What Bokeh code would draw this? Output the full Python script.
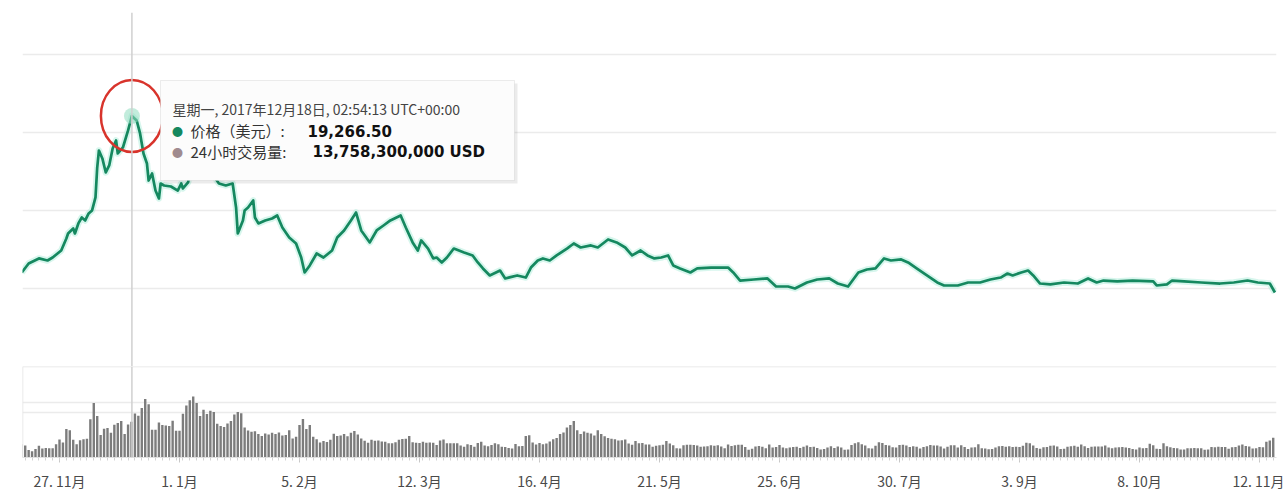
import pandas as pd
from bokeh.plotting import figure
from bokeh.layouts import column
from bokeh.models import FixedTicker, Span, BoxAnnotation, Label, Range1d
from bokeh.embed import file_html
from bokeh.resources import INLINE

# ---------------- data ----------------
price_dates = [
    "2017-11-16", "2017-11-18", "2017-11-21", "2017-11-23 12:00", "2017-11-25",
    "2017-11-27 12:00", "2017-11-29", "2017-11-29 12:00", "2017-12-01", "2017-12-01 12:00",
    "2017-12-02 12:00", "2017-12-03 12:00", "2017-12-04 12:00", "2017-12-05 12:00", "2017-12-06 12:00",
    "2017-12-07 12:00", "2017-12-08", "2017-12-08 12:00", "2017-12-09 12:00", "2017-12-10 12:00",
    "2017-12-11 12:00", "2017-12-12 12:00", "2017-12-13 12:00", "2017-12-14", "2017-12-15 12:00",
    "2017-12-17", "2017-12-18 02:54:13", "2017-12-19 12:00", "2017-12-20 12:00", "2017-12-21 12:00",
    "2017-12-22 12:00", "2017-12-23", "2017-12-24", "2017-12-25", "2017-12-26",
    "2017-12-26 12:00", "2017-12-27 12:00", "2017-12-29 12:00", "2017-12-31 12:00", "2018-01-01 12:00",
    "2018-01-02", "2018-01-03 12:00", "2018-01-04", "2018-01-05 12:00", "2018-01-07",
    "2018-01-08 12:00", "2018-01-10", "2018-01-11 12:00", "2018-01-12 12:00", "2018-01-14 12:00",
    "2018-01-16 12:00", "2018-01-17 12:00", "2018-01-18", "2018-01-19 12:00", "2018-01-20",
    "2018-01-21", "2018-01-22 12:00", "2018-01-23", "2018-01-24", "2018-01-26",
    "2018-01-28", "2018-01-29 12:00", "2018-01-31", "2018-02-02", "2018-02-04",
    "2018-02-05 12:00", "2018-02-06 12:00", "2018-02-08", "2018-02-10", "2018-02-12",
    "2018-02-14 12:00", "2018-02-16", "2018-02-18", "2018-02-20", "2018-02-21 12:00",
    "2018-02-23", "2018-02-25 12:00", "2018-02-27 12:00", "2018-03-01 12:00", "2018-03-03 12:00",
    "2018-03-06 12:00", "2018-03-08", "2018-03-10", "2018-03-11 12:00", "2018-03-12 12:00",
    "2018-03-14 12:00", "2018-03-16", "2018-03-17", "2018-03-18 12:00", "2018-03-20",
    "2018-03-22", "2018-03-25", "2018-03-27 12:00", "2018-03-29", "2018-03-30 12:00",
    "2018-04-01 12:00", "2018-04-04 12:00", "2018-04-06", "2018-04-09 12:00", "2018-04-12",
    "2018-04-13 12:00", "2018-04-15 12:00", "2018-04-17", "2018-04-19", "2018-04-21",
    "2018-04-24", "2018-04-26", "2018-04-28", "2018-05-01", "2018-05-03",
    "2018-05-06", "2018-05-08 12:00", "2018-05-11", "2018-05-13", "2018-05-15 12:00",
    "2018-05-17 12:00", "2018-05-19 12:00", "2018-05-21 12:00", "2018-05-23 12:00", "2018-05-25",
    "2018-05-27", "2018-05-30", "2018-06-01", "2018-06-05", "2018-06-10",
    "2018-06-11 12:00", "2018-06-13 12:00", "2018-06-17 12:00", "2018-06-21 12:00", "2018-06-24",
    "2018-06-27 12:00", "2018-06-29 12:00", "2018-07-03", "2018-07-06", "2018-07-09 12:00",
    "2018-07-12", "2018-07-15", "2018-07-18", "2018-07-20 12:00", "2018-07-23",
    "2018-07-25 12:00", "2018-07-27 12:00", "2018-07-30 12:00", "2018-08-01 12:00", "2018-08-04",
    "2018-08-07", "2018-08-10", "2018-08-12", "2018-08-16", "2018-08-19",
    "2018-08-22 12:00", "2018-08-25 12:00", "2018-08-28 12:00", "2018-08-30 12:00", "2018-09-01",
    "2018-09-03 12:00", "2018-09-05 12:00", "2018-09-07", "2018-09-09", "2018-09-12",
    "2018-09-16", "2018-09-20", "2018-09-23", "2018-09-25 12:00", "2018-09-27 12:00",
    "2018-10-01 12:00", "2018-10-06", "2018-10-12", "2018-10-13", "2018-10-16",
    "2018-10-17 12:00", "2018-10-21", "2018-10-26", "2018-10-31 12:00", "2018-11-04 12:00",
    "2018-11-08 12:00", "2018-11-11 12:00", "2018-11-15", "2018-11-16 12:00",
]
price_usd = [
    7230, 7920, 8310, 8150, 8380,
    8920, 9840, 10230, 10610, 10230,
    11000, 11460, 11230, 11770, 12000,
    13000, 15300, 16610, 16000, 14920,
    15460, 16760, 17380, 16380, 16840,
    18150, 19266.50, 18920, 17920, 16380,
    15610, 14300, 14840, 13530, 12920,
    14070, 13920, 13840, 13530, 14070,
    13690, 14150, 14920, 16460, 17000,
    15690, 15230, 14460, 14070, 13920,
    14070, 12230, 10230, 11230, 12000,
    12230, 12770, 11460, 11000, 11230,
    11380, 11610, 10690, 9920, 9460,
    8380, 7230, 7770, 8690, 8380,
    8920, 9920, 10460, 11230, 11840,
    10460, 9540, 10460, 10840, 11230,
    11610, 10690, 9540, 8920, 9690,
    9070, 8310, 8380, 8000, 8380,
    9070, 8770, 8540, 8000, 7540,
    7000, 7380, 6770, 7000, 6840,
    7610, 8150, 8310, 8150, 8540,
    9070, 9460, 9150, 9310, 9150,
    9770, 9540, 9150, 8540, 8920,
    8540, 8310, 8380, 8540, 7770,
    7540, 7230, 7540, 7610, 7610,
    7230, 6610, 6690, 6770, 6150,
    6150, 6000, 6460, 6690, 6770,
    6380, 6150, 7230, 7460, 7540,
    8310, 8150, 8230, 8000, 7540,
    7000, 6460, 6230, 6230, 6460,
    6460, 6690, 6840, 7150, 7000,
    7230, 7380, 7000, 6380, 6310,
    6460, 6380, 6770, 6460, 6610,
    6540, 6610, 6540, 6230, 6310,
    6610, 6540, 6460, 6380, 6460,
    6610, 6460, 6380, 5690,
]

# 24h volume, billions of USD, one bar per day (16 Nov 2017 .. 16 Nov 2018)
vol_2017_11 = [5.1, 4.6, 2.9, 2.4, 3.3, 4.5, 3.5, 3.7, 3.6, 3.6, 5.1, 6.9, 5.8, 11.0, 10.5]
vol_2017_12 = [6.8, 5.1, 6.6, 7.0, 7.2, 14.7, 21.0, 16.0, 8.7, 11.1, 11.3, 9.5, 12.6, 13.3, 14.0,
               9.0, 12.7, 13.7583, 16.9, 16.1, 19.0, 22.5, 20.5, 10.7, 10.7, 13.5, 12.5, 12.3, 12.1,
               14.1, 10.3]
vol_2018_01 = [10.3, 16.8, 20.0, 22.0, 23.5, 21.0, 16.0, 18.4, 16.7, 18.0, 17.5, 13.0, 12.1, 11.7,
               13.1, 14.0, 16.5, 17.5, 17.0, 11.5, 10.4, 9.9, 10.1, 9.0, 8.3, 9.2, 8.8, 9.5, 9.0,
               9.6, 8.5]
vol_2018_02 = [8.7, 10.5, 7.3, 8.0, 12.5, 14.8, 11.0, 12.5, 8.0, 7.0, 5.8, 6.3, 6.0, 6.8, 9.1,
               8.3, 8.5, 9.0, 8.2, 9.5, 10.2, 8.8, 7.3, 6.4, 5.7, 6.8, 6.4, 6.5]
vol_2018_03 = [6.2, 6.1, 5.5, 5.5, 5.9, 6.8, 7.1, 7.2, 8.3, 5.9, 5.7, 5.6, 6.1, 5.7, 5.8, 5.7,
               4.8, 6.5, 6.9, 5.5, 5.5, 5.5, 5.5, 4.6, 4.1, 5.1, 4.8, 4.1, 5.6, 6.1, 4.6]
vol_2018_04 = [4.3, 4.8, 5.5, 5.1, 4.1, 4.0, 3.7, 3.5, 5.2, 4.3, 4.4, 8.3, 8.6, 5.8, 5.0, 5.6,
               5.1, 5.4, 6.2, 7.0, 7.5, 9.0, 9.6, 11.5, 12.5, 14.0, 10.5, 9.0, 10.0, 9.5]
vol_2018_05 = [9.2, 8.5, 10.5, 9.0, 8.2, 7.5, 7.2, 7.0, 6.5, 6.6, 6.9, 5.4, 4.9, 6.3, 5.5, 5.6,
               5.0, 5.0, 4.1, 4.5, 4.7, 4.9, 6.3, 5.4, 4.7, 3.6, 3.5, 4.7, 4.9, 4.9, 4.8]
vol_2018_06 = [4.6, 4.1, 4.2, 4.3, 4.7, 4.5, 4.7, 4.2, 3.6, 5.0, 4.4, 4.7, 4.9, 4.9, 4.0, 3.0,
               3.4, 4.2, 4.4, 4.1, 3.6, 5.0, 3.8, 4.0, 4.8, 3.8, 3.6, 3.8, 4.0, 4.1]
vol_2018_07 = [3.7, 4.1, 4.6, 4.0, 4.1, 3.7, 3.1, 3.3, 3.8, 4.3, 3.7, 4.2, 3.8, 3.0, 3.1, 4.8,
               5.5, 5.9, 5.1, 4.6, 3.6, 3.5, 4.5, 5.9, 5.6, 4.8, 4.6, 3.9, 3.8, 4.8, 4.9]
vol_2018_08 = [4.6, 4.0, 4.3, 4.1, 3.5, 4.0, 4.3, 4.8, 4.6, 4.6, 4.2, 3.5, 4.1, 4.7, 4.7, 3.8,
               4.7, 4.0, 3.3, 3.8, 3.9, 5.1, 3.6, 3.5, 3.2, 3.3, 3.8, 4.3, 4.4, 4.1, 4.3]
vol_2018_09 = [4.0, 4.1, 4.0, 4.5, 5.7, 5.5, 4.6, 3.7, 3.4, 3.9, 4.0, 4.5, 4.6, 4.2, 3.3, 3.4,
               4.1, 4.3, 4.5, 4.1, 5.0, 4.3, 3.7, 4.1, 4.2, 4.2, 4.2, 4.6, 3.8, 3.6]
vol_2018_10 = [3.8, 3.9, 4.0, 3.8, 3.7, 3.3, 3.1, 3.8, 3.6, 3.7, 5.3, 4.7, 3.4, 3.3, 5.5, 4.3,
               3.9, 3.7, 3.6, 3.1, 3.1, 3.6, 3.6, 3.7, 3.6, 3.6, 3.0, 3.1, 4.0, 3.9, 4.1]
vol_2018_11 = [4.0, 4.0, 3.4, 3.9, 4.0, 4.6, 5.0, 4.4, 4.2, 3.5, 3.6, 4.0, 3.9, 6.1, 6.5, 7.6]

volume_bn = (vol_2017_11 + vol_2017_12 + vol_2018_01 + vol_2018_02 + vol_2018_03 + vol_2018_04
             + vol_2018_05 + vol_2018_06 + vol_2018_07 + vol_2018_08 + vol_2018_09 + vol_2018_10
             + vol_2018_11)
vol_dates = pd.date_range("2017-11-16", "2018-11-16", freq="D")

tick_dates = ["2017-11-27", "2018-01-01", "2018-02-05", "2018-03-12", "2018-04-16", "2018-05-21",
              "2018-06-25", "2018-07-30", "2018-09-03", "2018-10-08", "2018-11-12"]
tick_labels = ["27. 11月", "1. 1月", "5. 2月", "12. 3月", "16. 4月", "21. 5月",
               "25. 6月", "30. 7月", "3. 9月", "8. 10月", "12. 11月"]

hover_time = "2017-12-18 02:54:13"
hover_price = 19266.50
hover_volume = 13758300000
tooltip_title = "星期一, 2017年12月18日, 02:54:13 UTC+00:00"
price_label = "价格（美元）:"
volume_label = "24小时交易量:"

# ---------------- styling ----------------
FONT = "Noto Sans CJK SC"
GREEN = "#15885f"
GRID = "#ebebeb"

x_start = pd.Timestamp("2017-11-16 05:00")
x_end = pd.Timestamp("2018-11-16 23:00")
shared_x = Range1d(start=x_start, end=x_end)
ht = pd.Timestamp(hover_time)

# ---------------- price panel ----------------
p = figure(width=1284, height=366, x_range=shared_x, y_range=Range1d(0, 27220),
           x_axis_type="datetime", x_axis_location=None, y_axis_location=None,
           output_backend="svg", toolbar_location=None,
           min_border_left=22, min_border_right=8, min_border_top=12, min_border_bottom=0)
p.outline_line_color = None
p.background_fill_color = "white"
p.border_fill_color = "white"
p.xgrid.visible = False
p.ygrid.ticker = FixedTicker(ticks=[0, 6000, 12000, 18000, 24000])
p.ygrid.grid_line_color = GRID
p.ygrid.grid_line_width = 1.5

px = pd.to_datetime(price_dates, format="mixed")
p.line(px, price_usd, line_color="#a6ecd6", line_width=6.5, line_alpha=0.45, line_join="round")
p.line(px, price_usd, line_color=GREEN, line_width=2.7, line_join="round")

p.add_layout(Span(location=ht, dimension="height", line_color="#d0d0d0", line_width=1.5))
p.scatter([ht], [hover_price], size=16, fill_color="#8fdcbf", fill_alpha=0.55, line_color=None)
p.ellipse(x=[ht], y=[hover_price], width=62, height=72, width_units="screen",
          height_units="screen", fill_color=None, line_color="#d8342c", line_width=2.5)

# tooltip (frame-relative screen units)
p.add_layout(BoxAnnotation(left=141, right=495, bottom=183, top=283,
                           left_units="screen", right_units="screen",
                           top_units="screen", bottom_units="screen",
                           fill_color="#000000", fill_alpha=0.08, line_color=None))
p.add_layout(BoxAnnotation(left=138, right=492, bottom=186, top=286,
                           left_units="screen", right_units="screen",
                           top_units="screen", bottom_units="screen",
                           fill_color="#fcfcfc", fill_alpha=1.0,
                           line_color="#c4c4c4", line_width=1))


def lab(x, y, text, size, color, font=FONT, style="normal", align="left"):
    p.add_layout(Label(x=x, y=y, x_units="screen", y_units="screen", text=text,
                       text_font=font, text_font_size=size, text_color=color,
                       text_font_style=style, text_align=align, text_baseline="middle"))


lab(150, 258, tooltip_title, "14px", "#444444")
lab(155, 236, "●", "11px", GREEN, align="center")
lab(168, 236, price_label, "15px", "#333333")
lab(285, 236, f"{hover_price:,.2f}", "15px", "#111111", font="DejaVu Sans", style="bold")
lab(155, 215, "●", "11px", "#a08b8f", align="center")
lab(168, 215, volume_label, "15px", "#333333")
lab(290, 215, f"{hover_volume:,} USD", "15px", "#111111", font="DejaVu Sans", style="bold")

# ---------------- volume panel ----------------
v = figure(width=1284, height=127, x_range=shared_x, y_range=Range1d(0, 35e9),
           x_axis_type="datetime", y_axis_location=None,
           output_backend="svg", toolbar_location=None,
           min_border_left=22, min_border_right=8, min_border_top=0, min_border_bottom=30)
v.outline_line_color = None
v.background_fill_color = "white"
v.border_fill_color = "white"
v.xgrid.visible = False
v.ygrid.ticker = FixedTicker(ticks=[17.5e9, 21e9])
v.ygrid.grid_line_color = GRID
v.ygrid.grid_line_width = 1.5

v.vbar(x=vol_dates, top=[b * 1e9 for b in volume_bn], width=0.7 * 86400000,
       fill_color="#7c7c7c", line_color=None)
v.add_layout(Span(location=35e9, dimension="width", line_color="#e3e3e3", line_width=1.5))
v.add_layout(Span(location=x_start, dimension="height", line_color="#e3e3e3", line_width=1.5))
v.add_layout(Span(location=ht, dimension="height", line_color="#d0d0d0", line_width=1.5))

tick_ms = [int(pd.Timestamp(d).timestamp() * 1000) for d in tick_dates]
minor_ms = [int(t.timestamp() * 1000) for t in pd.date_range("2017-11-17", "2018-11-16", freq="2D")]
ax = v.xaxis[0]
ax.ticker = FixedTicker(ticks=tick_ms, minor_ticks=minor_ms)
ax.major_label_overrides = dict(zip(tick_ms, tick_labels))
ax.axis_line_color = "#e0e0e0"
ax.major_tick_line_color = "#c8c8c8"
ax.major_tick_in = 0
ax.major_tick_out = 5
ax.minor_tick_line_color = "#d4d4d4"
ax.minor_tick_in = 0
ax.minor_tick_out = 3
ax.major_label_standoff = 8
ax.major_label_text_font = FONT
ax.major_label_text_font_size = "14px"
ax.major_label_text_color = "#4a4a4a"

layout = column(p, v, spacing=0)
open("out.html", "w").write(file_html(layout, INLINE))
